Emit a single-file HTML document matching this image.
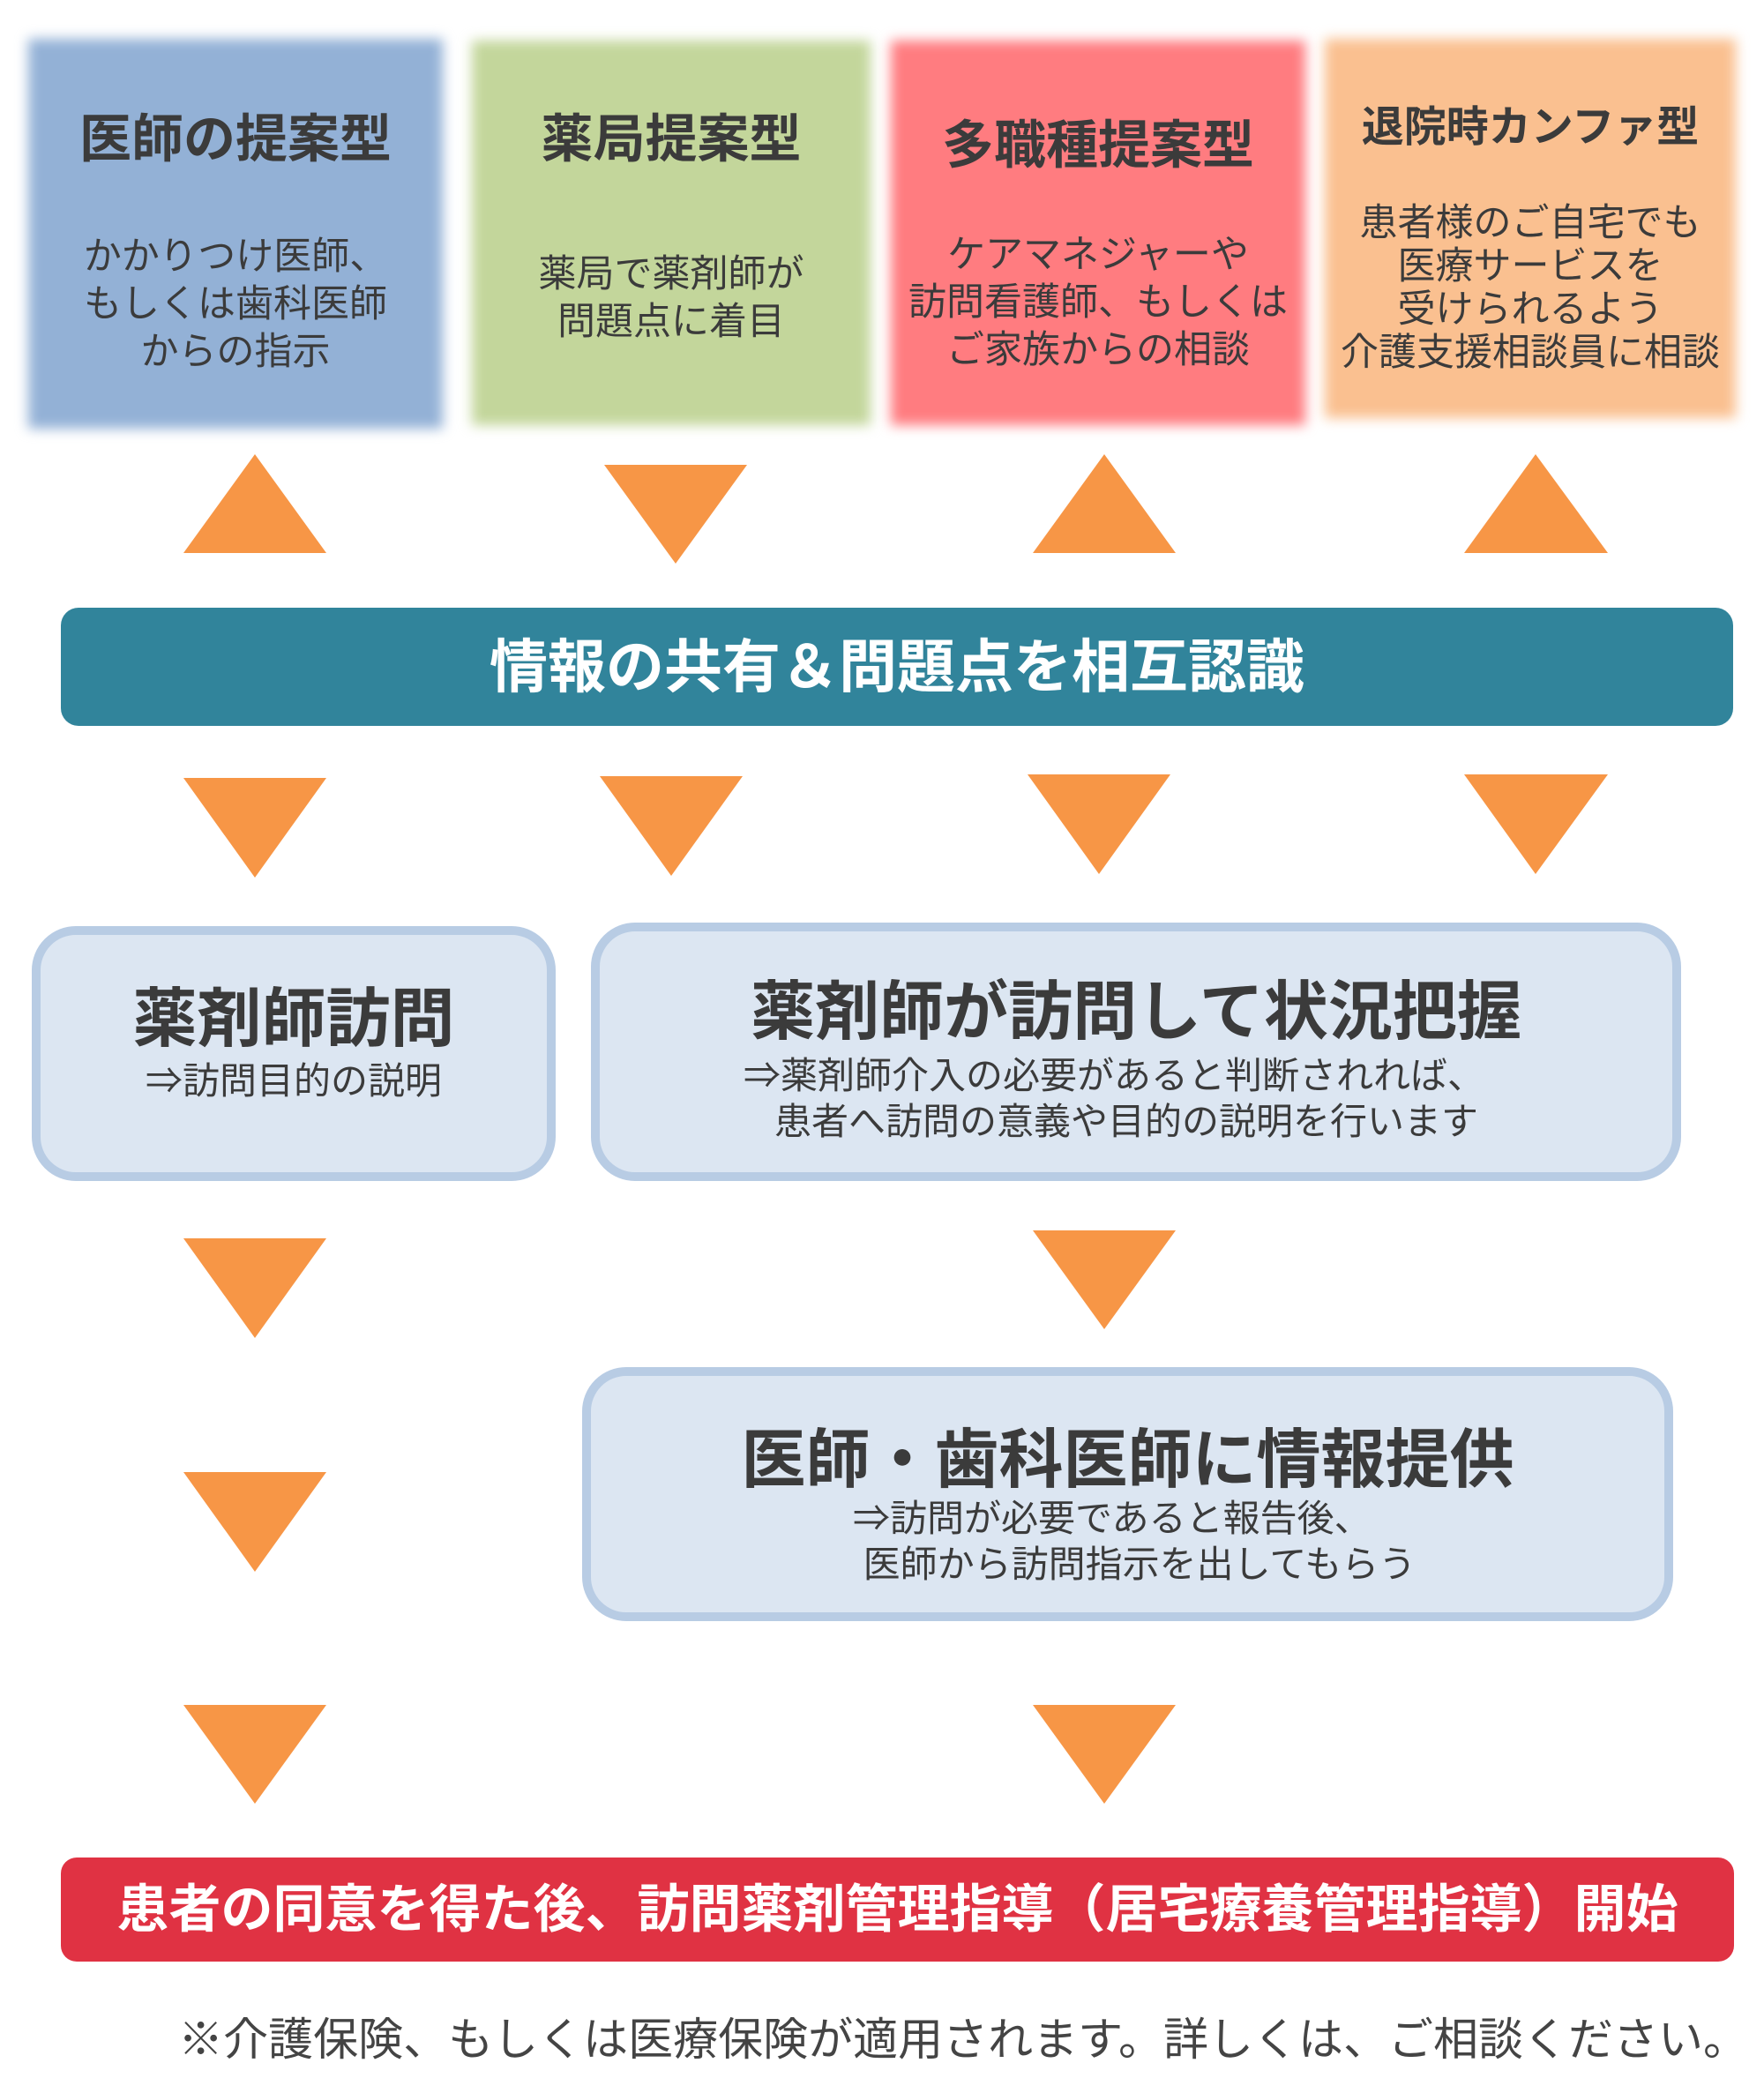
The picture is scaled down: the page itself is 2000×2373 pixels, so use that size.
<!DOCTYPE html>
<html><head><meta charset="utf-8"><style>
html,body{margin:0;padding:0;background:#fff;}
body{width:2000px;height:2373px;position:relative;overflow:hidden;font-family:"Liberation Sans","Noto Sans CJK JP",sans-serif;color:#3b3b3b;}
.abs{position:absolute;}
.tb{position:absolute;filter:blur(7px);}
.tt{position:absolute;text-align:center;}
.h{font-weight:bold;font-size:59px;line-height:60px;}
.b{font-size:43px;line-height:54px;}
.tri{position:absolute;}
.box{position:absolute;box-sizing:border-box;border:10px solid #b8cce4;background:#dce6f2;border-radius:50px;text-align:center;}
.bt{font-weight:bold;font-size:73px;line-height:80px;}
.bs{font-size:42px;line-height:52px;}
</style></head><body>
<div class="tb" style="left:32px;top:44px;width:470px;height:442px;background:#93b1d6;"></div>
<div class="tb" style="left:535px;top:46px;width:452px;height:436px;background:#c3d69b;"></div>
<div class="tb" style="left:1010px;top:46px;width:470px;height:436px;background:#ff7c80;"></div>
<div class="tb" style="left:1502px;top:44px;width:466px;height:430px;background:#fac090;"></div>

<div class="tt" style="left:32px;width:470px;top:128px;"><div class="h">医師の提案型</div><div class="b" style="margin-top:76px">かかりつけ医師、<br>もしくは歯科医師<br>からの指示</div></div>
<div class="tt" style="left:535px;width:452px;top:128px;"><div class="h">薬局提案型</div><div class="b" style="margin-top:96px">薬局で薬剤師が<br>問題点に着目</div></div>
<div class="tt" style="left:1010px;width:470px;top:135px;"><div class="h">多職種提案型</div><div class="b" style="margin-top:67px">ケアマネジャーや<br>訪問看護師、もしくは<br>ご家族からの相談</div></div>
<div class="tt" style="left:1502px;width:466px;top:115px;"><div class="h" style="font-size:48px">退院時カンファ型</div><div class="b" style="margin-top:54px;line-height:49px">患者様のご自宅でも<br>医療サービスを<br>受けられるよう<br>介護支援相談員に相談</div></div>

<svg class="abs" style="left:0;top:0" width="2000" height="2373">
<g fill="#f79646">
<polygon points="289,515 370,627 208,627"/>
<polygon points="685,527 847,527 766,639"/>
<polygon points="1252,515 1333,627 1171,627"/>
<polygon points="1741,515 1823,627 1660,627"/>
<polygon points="208,882 370,882 289,995"/>
<polygon points="680,880 842,880 761,993"/>
<polygon points="1165,878 1327,878 1246,991"/>
<polygon points="1660,878 1823,878 1741,991"/>
<polygon points="208,1404 370,1404 289,1517"/>
<polygon points="1171,1395 1333,1395 1252,1507"/>
<polygon points="208,1669 370,1669 289,1782"/>
<polygon points="208,1933 370,1933 289,2045"/>
<polygon points="1171,1933 1333,1933 1252,2045"/>
</g></svg>

<div class="abs" style="left:69px;top:689px;width:1896px;height:134px;background:#31849b;border-radius:20px;color:#fff;font-weight:bold;font-size:66px;line-height:134px;text-align:center;">情報の共有＆問題点を相互認識</div>

<div class="box" style="left:36px;top:1050px;width:594px;height:289px;"><div class="bt" style="margin-top:56px">薬剤師訪問</div><div class="bs" style="margin-top:4px">⇒訪問目的の説明</div></div>
<div class="box" style="left:670px;top:1046px;width:1236px;height:293px;"><div class="bt" style="margin-top:52px">薬剤師が訪問して状況把握</div><div class="bs" style="text-align:left;padding-left:163px;margin-top:6px">⇒薬剤師介入の必要があると判断されれば、<br>&nbsp;&nbsp;&nbsp;患者へ訪問の意義や目的の説明を行います</div></div>
<div class="box" style="left:660px;top:1550px;width:1237px;height:288px;"><div class="bt" style="margin-top:56px">医師・歯科医師に情報提供</div><div class="bs" style="text-align:left;padding-left:297px;">⇒訪問が必要であると報告後、<br>&nbsp;医師から訪問指示を出してもらう</div></div>

<div class="abs" style="left:69px;top:2106px;width:1897px;height:118px;background:#e03243;border-radius:18px;color:#fff;font-weight:bold;font-size:59px;line-height:118px;text-align:center;">患者の同意を得た後、訪問薬剤管理指導（居宅療養管理指導）開始</div>

<div class="abs" style="left:100px;top:2283px;width:1882px;font-size:51px;line-height:60px;color:#444;text-align:right;white-space:nowrap;">※介護保険、もしくは医療保険が適用されます。詳しくは、ご相談ください。</div>
</body></html>
